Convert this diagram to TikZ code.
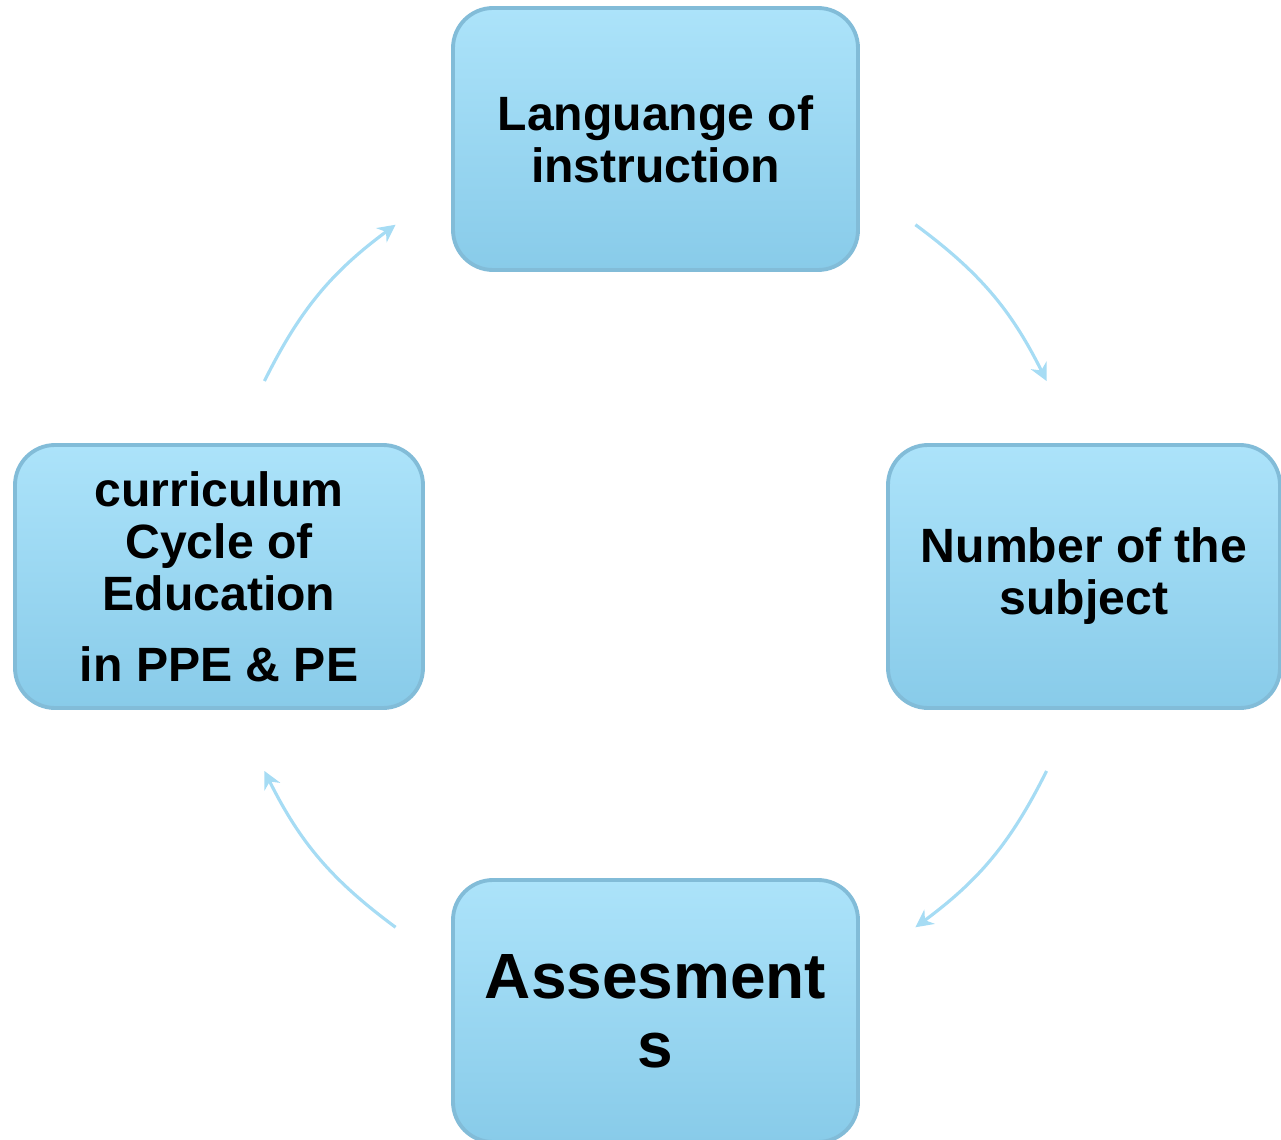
\documentclass[tikz,border=0pt]{standalone}
\usepackage{fontspec}
\setmainfont{Liberation Sans}
\usetikzlibrary{arrows.meta}

\definecolor{boxtop}{RGB}{172,227,250}
\definecolor{boxbot}{RGB}{136,203,233}
\definecolor{boxedge}{RGB}{130,188,216}
\definecolor{cyc}{RGB}{166,220,244}

\tikzset{
    cycbox/.style={rectangle, rounded corners=0.4cm, draw=boxedge, line width=1.1pt,
        top color=boxtop, bottom color=boxbot, align=center, inner sep=0pt,
        font=\fontsize{13.7}{14.8}\selectfont\bfseries},
    cycarrow/.style={draw=cyc, line width=0.9pt, -{Stealth[length=5pt,width=5pt]}}
}

\begin{document}
\begin{tikzpicture}
            %\draw[step=0.5cm, gray, very thin] (0, 0) grid (12.81, 11.39);
            \useasboundingbox (0, 0) rectangle (12.81, 11.39);

            % Boxes
            \node [cycbox, minimum width=4.05cm, minimum height=2.62cm] (lang) at (6.555, 10.0) {Languange of\\instruction};
            \node [cycbox, minimum width=3.92cm, minimum height=2.63cm] (subj) at (10.84, 5.625) {Number of the\\subject};
            \node [cycbox, minimum width=4.05cm, minimum height=2.62cm, font=\fontsize{18.2}{19.6}\selectfont\bfseries] (asse) at (6.555, 1.28) {Assesment\\s};
            \node [cycbox, minimum width=4.08cm, minimum height=2.63cm] (curr) at (2.19, 5.625) {curriculum\\Cycle of\\Education\\[5.5pt]in PPE \& PE};

            % Arrows
            \coordinate (hub) at (6.555, 5.63);
            \foreach \a/\b [count=\i] in {53.5/26.5, -26.5/-53.5, 233.5/206.5, 153.5/126.5} {
                \path (hub) ++(\a:4.37) coordinate (s\i);
                \path (hub) ++(\b:4.37) coordinate (e\i);
                \draw [cycarrow] (s\i) to [bend left=13.5] (e\i);
            }

        \end{tikzpicture}
\end{document}
